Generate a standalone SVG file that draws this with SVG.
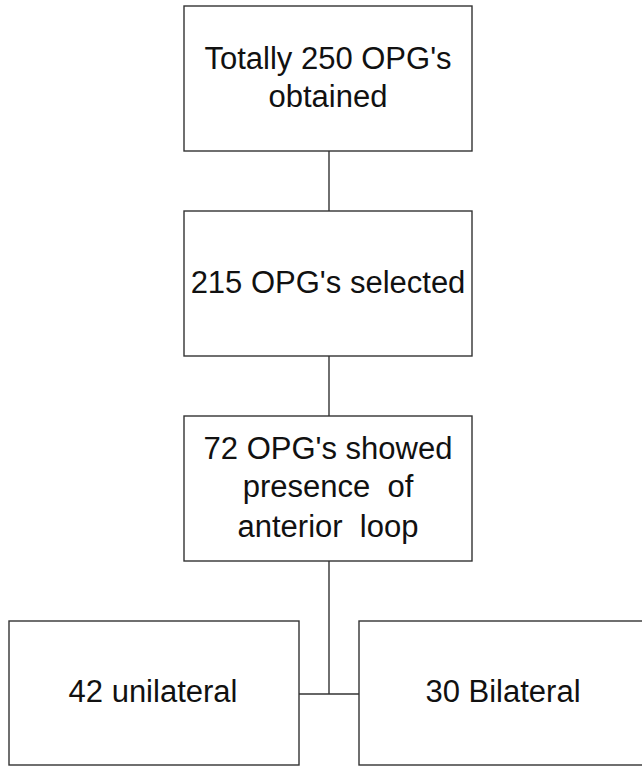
<svg xmlns="http://www.w3.org/2000/svg" width="642" height="766" viewBox="0 0 642 766">
<style>
.box{fill:#fff;stroke:#333;stroke-width:1.4}
.lbl{font-family:"Liberation Sans",Arial,sans-serif;font-size:31px;fill:#111;text-anchor:middle;white-space:pre}
.conn{stroke:#333;stroke-width:1.4;fill:none}
</style>
<rect width="642" height="766" fill="#fff"/>
<g id="connectors">
<line class="conn" x1="329" y1="151" x2="329" y2="211"/>
<line class="conn" x1="329" y1="356" x2="329" y2="416"/>
<line class="conn" x1="329" y1="561" x2="329" y2="694"/>
<line class="conn" x1="299" y1="694" x2="359" y2="694"/>
</g>
<g id="node1">
<rect class="box" x="184" y="6" width="288" height="145"/>
<text class="lbl" x="328" y="69">Totally 250 OPG's</text>
<text class="lbl" x="328" y="107">obtained</text>
</g>
<g id="node2">
<rect class="box" x="184" y="211" width="288" height="145"/>
<text class="lbl" x="328" y="293">215 OPG's selected</text>
</g>
<g id="node3">
<rect class="box" x="184" y="416" width="288" height="145"/>
<text class="lbl" x="328" y="459">72 OPG's showed</text>
<text class="lbl" x="328" y="497" xml:space="preserve">presence  of</text>
<text class="lbl" x="328" y="537" xml:space="preserve">anterior  loop</text>
</g>
<g id="node4">
<rect class="box" x="9" y="621" width="290" height="144"/>
<text class="lbl" x="153" y="702">42 unilateral</text>
</g>
<g id="node5">
<rect class="box" x="359" y="621" width="290" height="144"/>
<text class="lbl" x="503" y="702">30 Bilateral</text>
</g>
</svg>
